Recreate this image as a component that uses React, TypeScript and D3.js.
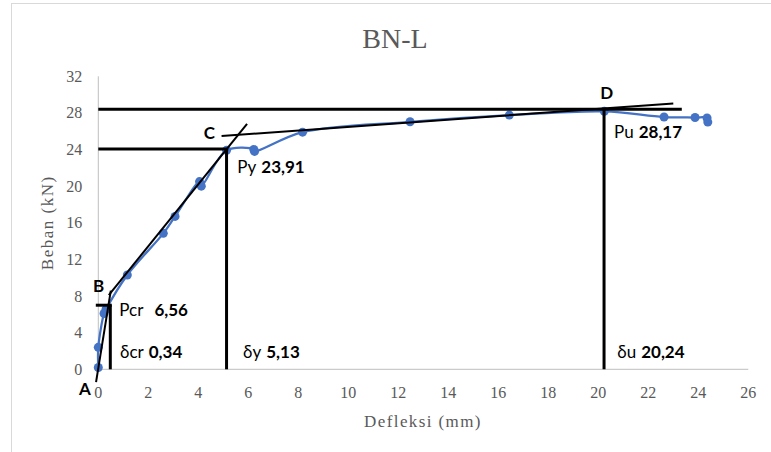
import React, { useEffect, useRef } from 'react';
import * as d3 from 'd3';

// load–deflection test points (mm, kN)
const deflection = [0, 0, 0.23, 0.31, 1.16, 2.6, 3.07, 4.05, 4.12, 5.13, 6.22, 6.25, 8.17, 12.47, 16.44, 20.24, 22.63, 23.87, 24.35, 24.38];
const load = [0.2, 2.4, 6.1, 6.56, 10.3, 14.85, 16.7, 20.5, 20.0, 23.91, 24.0, 23.8, 25.9, 27.03, 27.76, 28.17, 27.55, 27.5, 27.45, 27.0];

const xTicks = [0, 2, 4, 6, 8, 10, 12, 14, 16, 18, 20, 22, 24, 26];
const yTicks = [0, 4, 8, 12, 16, 20, 24, 28, 32];

// construction lines in data units: [x1, y1, x2, y2]
const thickLines: [number, number, number, number][] = [
  [0, 28.4, 23.34, 28.4],
  [0, 24.05, 5.2, 24.05],
  [5.13, 24.05, 5.13, 0],
  [20.23, 28.4, 20.23, 0],
  [0.48, 7.0, 0.48, 0],
  [-0.1, 7.0, 0.54, 7.0],
];
const thinLines: [number, number, number, number][] = [
  [-0.09, -1.4, 0.5, 8.6],
  [0.42, 8.1, 5.95, 26.8],
  [4.93, 25.47, 23.0, 29.04],
];

export default function App() {
  const ref = useRef<SVGSVGElement>(null);

  useEffect(() => {
    if (!ref.current) return;
    const svg = d3.select(ref.current);
    svg.selectAll('*').remove();

    const x = d3.scaleLinear().domain([0, 26]).range([98.3, 748.3]);
    const y = d3.scaleLinear().domain([0, 32]).range([369.3, 76.3]);
    const labelFont = 'Lato, "Open Sans", sans-serif';
    const serif = '"Liberation Serif", "Times New Roman", serif';

    svg.append('rect')
      .attr('x', 11.5).attr('y', 3.5)
      .attr('width', 800).attr('height', 500)
      .attr('fill', '#fff')
      .attr('stroke', '#d9d9d9');

    // title
    svg.append('text')
      .attr('x', 395).attr('y', 48)
      .attr('text-anchor', 'middle')
      .attr('font-family', serif)
      .attr('font-size', 28)
      .attr('fill', '#595959')
      .text('BN-L');

    // axes
    svg.append('line')
      .attr('x1', x(0)).attr('x2', x(0))
      .attr('y1', y(0)).attr('y2', y(32))
      .attr('stroke', '#bfbfbf');
    svg.append('line')
      .attr('x1', x(0)).attr('x2', x(26))
      .attr('y1', y(0)).attr('y2', y(0))
      .attr('stroke', '#bfbfbf');

    svg.selectAll('.xt')
      .data(xTicks)
      .join('text')
      .attr('class', 'xt')
      .attr('x', (d) => x(d))
      .attr('y', y(0) + 29)
      .attr('text-anchor', 'middle')
      .attr('font-family', serif)
      .attr('font-size', 16)
      .attr('fill', '#595959')
      .text((d) => d);

    svg.selectAll('.yt')
      .data(yTicks)
      .join('text')
      .attr('class', 'yt')
      .attr('x', x(0) - 16)
      .attr('y', (d) => y(d) + 5.5)
      .attr('text-anchor', 'end')
      .attr('font-family', serif)
      .attr('font-size', 16)
      .attr('fill', '#595959')
      .text((d) => d);

    svg.append('text')
      .attr('transform', `translate(53,${(y(0) + y(32)) / 2}) rotate(-90)`)
      .attr('text-anchor', 'middle')
      .attr('font-family', serif)
      .attr('font-size', 17)
      .attr('letter-spacing', 1.5)
      .attr('fill', '#595959')
      .text('Beban (kN)');
    svg.append('text')
      .attr('x', 423).attr('y', 427)
      .attr('text-anchor', 'middle')
      .attr('font-family', serif)
      .attr('font-size', 17)
      .attr('letter-spacing', 1.4)
      .attr('fill', '#595959')
      .text('Defleksi (mm)');

    // data curve
    const pts = deflection.map((d, i) => [d, load[i]] as [number, number]);
    const line = d3.line<[number, number]>()
      .x((d) => x(d[0]))
      .y((d) => y(d[1]))
      .curve(d3.curveCatmullRom.alpha(0.5));
    svg.append('path')
      .attr('d', line(pts))
      .attr('fill', 'none')
      .attr('stroke', '#4472c4')
      .attr('stroke-width', 2.25);
    svg.selectAll('.pt')
      .data(pts)
      .join('circle')
      .attr('class', 'pt')
      .attr('cx', (d) => x(d[0]))
      .attr('cy', (d) => y(d[1]))
      .attr('r', 4.5)
      .attr('fill', '#4472c4');

    // construction lines
    svg.selectAll('.thick')
      .data(thickLines)
      .join('line')
      .attr('class', 'thick')
      .attr('x1', (d) => x(d[0])).attr('y1', (d) => y(d[1]))
      .attr('x2', (d) => x(d[2])).attr('y2', (d) => y(d[3]))
      .attr('stroke', '#000')
      .attr('stroke-width', 3);
    svg.selectAll('.thin')
      .data(thinLines)
      .join('line')
      .attr('class', 'thin')
      .attr('x1', (d) => x(d[0])).attr('y1', (d) => y(d[1]))
      .attr('x2', (d) => x(d[2])).attr('y2', (d) => y(d[3]))
      .attr('stroke', '#000')
      .attr('stroke-width', 2);

    // point letters
    const letters: [string, number, number][] = [
      ['A', x(0) - 7.5, y(0) + 25.7],
      ['B', x(0) + 6, y(8.4)],
      ['C', x(4.67), y(25.2)],
      ['D', x(20.6), y(29.5)],
    ];
    svg.selectAll('.letter')
      .data(letters)
      .join('text')
      .attr('class', 'letter')
      .attr('x', (d) => d[1])
      .attr('y', (d) => d[2])
      .attr('text-anchor', 'end')
      .attr('font-family', labelFont)
      .attr('font-weight', 'bold')
      .attr('font-size', 17)
      .attr('fill', '#000')
      .text((d) => d[0]);

    // value labels: [prefix, value, x, y, gap]
    const values: [string, string, number, number, number][] = [
      ['Pcr', '6,56', x(0.84), y(5.85), 11],
      ['δcr', '0,34', x(0.87), y(1.2), 5],
      ['δy', '5,13', x(5.79), y(1.2), 5],
      ['δu', '20,24', x(20.76), y(1.2), 5],
      ['Py', '23,91', x(5.56), y(21.46), 5],
      ['Pu', '28,17', x(20.63), y(25.28), 5],
    ];
    const vt = svg.selectAll('.val')
      .data(values)
      .join('text')
      .attr('class', 'val')
      .attr('x', (d) => d[2])
      .attr('y', (d) => d[3])
      .attr('font-family', labelFont)
      .attr('font-size', 17)
      .attr('fill', '#000');
    vt.append('tspan').text((d) => d[0]);
    vt.append('tspan')
      .attr('dx', (d) => d[4])
      .attr('font-weight', 'bold')
      .text((d) => d[1]);
  }, []);

  return (
    <svg
      ref={ref}
      width={771}
      height={452}
      style={{ position: 'absolute', left: 0, top: 0, background: '#fff' }}
    />
  );
}
